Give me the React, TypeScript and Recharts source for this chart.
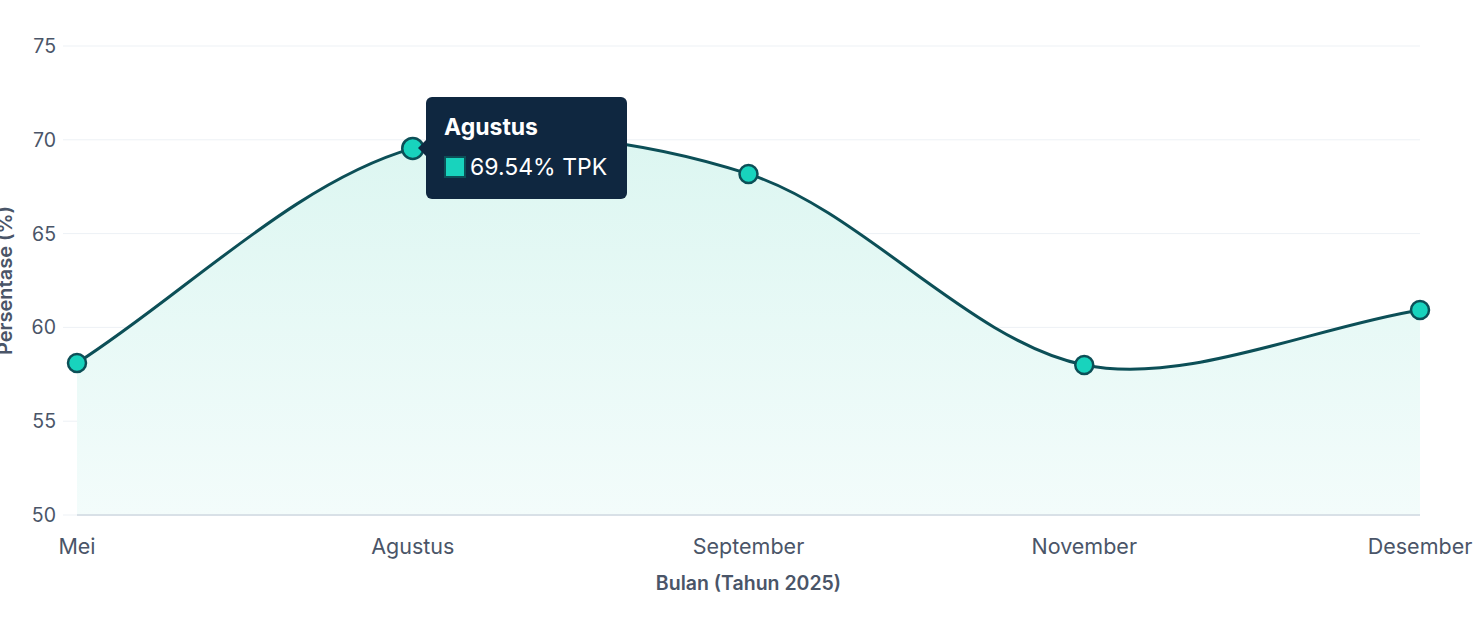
import React from "react";
import {
  AreaChart,
  Area,
  XAxis,
  YAxis,
  CartesianGrid,
  Tooltip,
} from "recharts";

// data
const months = ["Mei", "Agustus", "September", "November", "Desember"];
const tpk = [58.1, 69.54, 68.18, 58.0, 60.93];
const yTicks = [50, 55, 60, 65, 70, 75];

const data = months.map((m, i) => ({ bulan: m, tpk: tpk[i] }));

const FONT = "Inter, 'Noto Sans', sans-serif";
const LINE = "#0c4f57";
const DOT = "#18d3bd";
const TEXT = "#4a5568";

// bezier spline with tension, like the one the original line uses
function tensionCurve(tension: number) {
  return (context: any) => {
    let pts: [number, number][] = [];
    let line = NaN;
    return {
      areaStart() {
        line = 0;
      },
      areaEnd() {
        line = NaN;
      },
      lineStart() {
        pts = [];
      },
      lineEnd() {
        const n = pts.length;
        if (n) {
          if (line) context.lineTo(pts[0][0], pts[0][1]);
          else context.moveTo(pts[0][0], pts[0][1]);
          const cps = pts.map((cur, i) => {
            const prev = pts[Math.max(0, i - 1)];
            const next = pts[Math.min(n - 1, i + 1)];
            const d01 = Math.hypot(cur[0] - prev[0], cur[1] - prev[1]);
            const d12 = Math.hypot(next[0] - cur[0], next[1] - cur[1]);
            let s01 = d01 / (d01 + d12);
            let s12 = d12 / (d01 + d12);
            if (isNaN(s01)) s01 = 0;
            if (isNaN(s12)) s12 = 0;
            const fa = tension * s01;
            const fb = tension * s12;
            return {
              px: cur[0] - fa * (next[0] - prev[0]),
              py: cur[1] - fa * (next[1] - prev[1]),
              nx: cur[0] + fb * (next[0] - prev[0]),
              ny: cur[1] + fb * (next[1] - prev[1]),
            };
          });
          for (let i = 1; i < n; i++) {
            context.bezierCurveTo(
              cps[i - 1].nx,
              cps[i - 1].ny,
              cps[i].px,
              cps[i].py,
              pts[i][0],
              pts[i][1]
            );
          }
        }
        if (line || (line !== 0 && n === 1)) context.closePath();
        line = 1 - line;
      },
      point(x: number, y: number) {
        pts.push([+x, +y]);
      },
    };
  };
}

const curve = tensionCurve(0.32);

function TipContent({ active, payload, label }: any) {
  if (!active || !payload || !payload.length) return null;
  const v = Number(payload[0].value);
  return (
    <div style={{ position: "relative", paddingLeft: 8, fontFamily: FONT }}>
      <div
        style={{
          position: "absolute",
          left: 0,
          top: 43,
          width: 0,
          height: 0,
          borderTop: "8px solid transparent",
          borderBottom: "8px solid transparent",
          borderRight: "8px solid #0f2740",
        }}
      />
      <div
        style={{
          background: "#0f2740",
          borderRadius: 6,
          width: 201,
          height: 102,
          boxSizing: "border-box",
          padding: "15px 18px",
          color: "#ffffff",
        }}
      >
        <div style={{ fontWeight: 700, fontSize: 23, lineHeight: "30px" }}>{label}</div>
        <div style={{ display: "flex", alignItems: "center", marginTop: 11 }}>
          <span
            style={{
              display: "inline-block",
              width: 22,
              height: 22,
              boxSizing: "border-box",
              background: DOT,
              border: `2px solid ${LINE}`,
              marginRight: 4,
            }}
          />
          <span style={{ fontSize: 23 }}>{v.toFixed(2)}% TPK</span>
        </div>
      </div>
    </div>
  );
}

export default function App() {
  return (
    <div style={{ position: "absolute", left: 0, top: 0, fontFamily: FONT }}>
      <AreaChart
        width={1475}
        height={620}
        data={data}
        margin={{ top: 46, right: 55, bottom: 45, left: 0 }}
      >
        <defs>
          <linearGradient id="tpkFill" x1="0" y1="0" x2="0" y2="1">
            <stop offset="0%" stopColor="#dcf6f1" />
            <stop offset="100%" stopColor="#f3fcfb" />
          </linearGradient>
        </defs>
        <CartesianGrid vertical={false} stroke="#edf1f5" />
        <XAxis
          dataKey="bulan"
          axisLine={{ stroke: "#cfd8e0", strokeWidth: 1.5 }}
          tickLine={false}
          tickMargin={18}
          height={60}
          tick={{ fill: TEXT, fontSize: 21.5, fontFamily: FONT }}
          label={{
            value: "Bulan (Tahun 2025)",
            position: "bottom",
            offset: 1,
            fill: TEXT,
            fontSize: 19.5,
            fontWeight: 600,
            fontFamily: FONT,
          }}
        />
        <YAxis
          domain={[50, 75]}
          ticks={yTicks}
          width={77}
          axisLine={false}
          tickLine={{ stroke: "#edf1f5" }}
          tickSize={14}
          tickMargin={7}
          tick={{ fill: TEXT, fontSize: 19.5, fontFamily: FONT }}
          label={{
            value: "Persentase (%)",
            angle: -90,
            position: "insideLeft",
            offset: 5,
            fill: TEXT,
            fontSize: 20,
            fontWeight: 600,
            fontFamily: FONT,
            style: { textAnchor: "middle" },
          }}
        />
        <Tooltip
          content={<TipContent />}
          defaultIndex={1}
          cursor={false}
          position={{ x: 418, y: 97 }}
          isAnimationActive={false}
          wrapperStyle={{ outline: "none" }}
        />
        <Area
          type={curve as any}
          dataKey="tpk"
          stroke={LINE}
          strokeWidth={3}
          fill="url(#tpkFill)"
          fillOpacity={1}
          dot={{ r: 9, fill: DOT, stroke: LINE, strokeWidth: 2.5 }}
          activeDot={{ r: 10.5, fill: DOT, stroke: LINE, strokeWidth: 2.5 }}
          isAnimationActive={false}
        />
      </AreaChart>
    </div>
  );
}
